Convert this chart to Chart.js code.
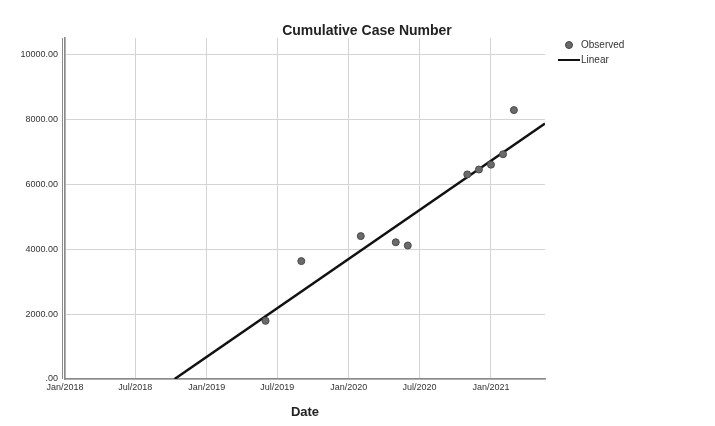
<!DOCTYPE html>
<html>
<head>
<meta charset="utf-8">
<script src="https://cdn.jsdelivr.net/npm/chart.js@4"></script>
<style>
  html, body { margin: 0; padding: 0; background: #fff; }
  #wrap { position: relative; width: 715px; height: 426px; font-family: "Liberation Sans", Arial, sans-serif; }
  #title { position: absolute; left: 0; width: 734px; top: 22px; text-align: center; font-size: 14px; font-weight: bold; color: #222; }
  .leg { position: absolute; font-size: 10px; color: #333; }
  .dot { position: absolute; left: 565px; top: 41px; width: 6px; height: 6px; border-radius: 50%; background: #6a6a6a; border: 1px solid #444; }
  .ln { position: absolute; left: 558px; top: 59px; width: 22px; height: 2px; background: #111; }
</style>
</head>
<body>
<div id="wrap">
  <canvas id="c" width="715" height="426"></canvas>
  <div id="title">Cumulative Case Number</div>
  <div class="dot"></div>
  <div class="leg" style="left:581px; top:39px;">Observed</div>
  <div class="ln"></div>
  <div class="leg" style="left:581px; top:54px;">Linear</div>
</div>
<script>
// observed points
const obsDates = ['2019-06-01', '2019-09-01', '2020-02-01', '2020-05-01', '2020-06-01',
                  '2020-11-01', '2020-12-01', '2021-01-01', '2021-02-01', '2021-03-01'];
const obsValues = [1790, 3630, 4400, 4210, 4110, 6300, 6450, 6600, 6920, 8280];

// fitted line, read at its two visible ends
const fitDates = ['2018-10-10', '2021-05-20'];
const fitValues = [0, 7870];

// axes
const xTicks = ['2018-01-01', '2018-07-01', '2019-01-01', '2019-07-01', '2020-01-01', '2020-07-01', '2021-01-01'];
const xTickLabels = ['Jan/2018', 'Jul/2018', 'Jan/2019', 'Jul/2019', 'Jan/2020', 'Jul/2020', 'Jan/2021'];
const yTicks = [0, 2000, 4000, 6000, 8000, 10000];
const yTickLabels = ['.00', '2000.00', '4000.00', '6000.00', '8000.00', '10000.00'];

const xMin = '2018-01-01';
const xMax = '2021-05-20';

const toPts = (ds, vs) => ds.map((d, i) => ({ x: Date.parse(d), y: vs[i] }));

// second thin line just left of the y axis, like the original
const doubleAxis = {
  id: 'doubleAxis',
  afterDraw(chart) {
    const { ctx, chartArea } = chart;
    ctx.save();
    ctx.strokeStyle = '#8a8a8a';
    ctx.lineWidth = 1;
    ctx.beginPath();
    ctx.moveTo(chartArea.left - 2.5, chartArea.top);
    ctx.lineTo(chartArea.left - 2.5, chartArea.bottom);
    ctx.stroke();
    ctx.restore();
  },
};

const ctx = document.getElementById('c').getContext('2d');
new Chart(ctx, {
  type: 'scatter',
  data: {
    datasets: [
      {
        label: 'Observed',
        data: toPts(obsDates, obsValues),
        backgroundColor: '#6a6a6a',
        borderColor: '#4a4a4a',
        borderWidth: 1,
        pointRadius: 3.5,
      },
      {
        label: 'Linear',
        type: 'line',
        data: toPts(fitDates, fitValues),
        borderColor: '#111',
        borderWidth: 2.5,
        pointRadius: 0,
        fill: false,
      },
    ],
  },
  options: {
    responsive: false,
    animation: { duration: 0 },
    layout: { padding: { top: 38, right: 170, left: 0, bottom: 0 } },
    plugins: {
      legend: { display: false },
      tooltip: { enabled: false },
    },
    scales: {
      x: {
        type: 'linear',
        min: Date.parse(xMin),
        max: Date.parse(xMax),
        afterBuildTicks: (s) => { s.ticks = xTicks.map(d => ({ value: Date.parse(d) })); },
        afterFit: (s) => { s.height = 47; },
        ticks: {
          padding: 3,
          maxRotation: 0,
          autoSkip: false,
          color: '#333',
          font: { family: 'Liberation Sans', size: 9 },
          callback: (v) => xTickLabels[xTicks.map(d => Date.parse(d)).indexOf(v)],
        },
        grid: { color: '#d4d4d4', drawTicks: false },
        border: { color: '#8a8a8a', width: 1.5 },
        title: {
          display: true,
          text: 'Date',
          color: '#222',
          font: { family: 'Liberation Sans', size: 13, weight: 'bold' },
          padding: { top: 0, bottom: 6 },
        },
      },
      y: {
        min: 0,
        max: 10500,
        afterBuildTicks: (s) => { s.ticks = yTicks.map(v => ({ value: v })); },
        afterFit: (s) => { s.width = 65; },
        ticks: {
          padding: 7,
          color: '#333',
          font: { family: 'Liberation Sans', size: 9 },
          callback: (v) => yTickLabels[yTicks.indexOf(v)],
        },
        grid: { color: '#d4d4d4', drawTicks: false },
        border: { color: '#8a8a8a', width: 1.5 },
      },
    },
  },
  plugins: [doubleAxis],
});
</script>
</body>
</html>
